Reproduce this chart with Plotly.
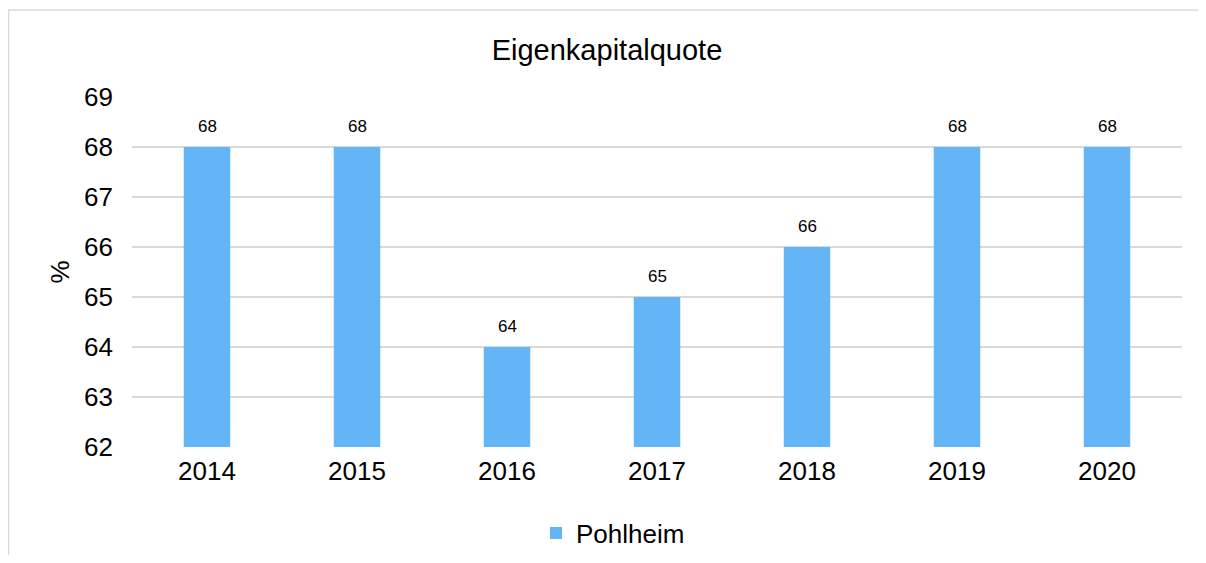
import plotly.graph_objects as go

years = ["2014", "2015", "2016", "2017", "2018", "2019", "2020"]
pohlheim = [68, 68, 64, 65, 66, 68, 68]
y_ticks = [62, 63, 64, 65, 66, 67, 68, 69]

font = "Liberation Sans, Arial, sans-serif"
# page body has an 8px margin, so the figure is 16px smaller than the window
W, H = 1190, 547
ml, mr, mt, mb = 124, 16, 89, 108
pw, ph = W - ml - mr, H - mt - mb

def px_x(x):
    return (x - ml) / pw

def px_y(y):
    return (H - mb - y) / ph

fig = go.Figure()
fig.add_trace(go.Bar(
    x=years, y=pohlheim, name="Pohlheim",
    marker=dict(color="#64B5F6", line=dict(width=0)),
))

# value labels above the bars (category index so "2014" isn't read as a number)
for i, v in enumerate(pohlheim):
    fig.add_annotation(x=i, y=v, xref="x", yref="y", text=str(v),
                       showarrow=False, yanchor="bottom", yshift=9,
                       font=dict(family=font, size=17, color="#000000"))

# outer chart frame (top and left edges visible)
fig.add_shape(type="rect", xref="paper", yref="paper",
              x0=px_x(0.5), x1=px_x(W + 20), y0=px_y(H + 20), y1=px_y(2),
              line=dict(color="#D9D9D9", width=1.5), layer="below")

fig.update_layout(
    width=W, height=H,
    margin=dict(l=ml, r=mr, t=mt, b=mb, autoexpand=False),
    paper_bgcolor="white", plot_bgcolor="white",
    bargap=0.69,
    title=dict(text="Eigenkapitalquote", x=599 / W, xref="container",
               xanchor="center", yref="container", y=1 - 42 / H,
               yanchor="middle",
               font=dict(family=font, size=29, color="#000000")),
    showlegend=True,
    legend=dict(orientation="h", xref="container", x=605 / W,
                xanchor="center", y=px_y(525), yanchor="middle",
                font=dict(family=font, size=26, color="#000000"),
                itemwidth=30),
    xaxis=dict(type="category", categoryorder="array", categoryarray=years,
               range=[-0.5, len(years) - 0.5], autorange=False,
               showgrid=False, showline=False, ticks="",
               automargin=False, ticklabelstandoff=6,
               tickfont=dict(family=font, size=26, color="#000000")),
    yaxis=dict(range=[62, 69], tickvals=y_ticks, showgrid=True,
               gridcolor="#D9D9D9", gridwidth=1.5, zeroline=False,
               ticks="", ticklabelstandoff=18, automargin=False,
               title=dict(text="%", standoff=6,
                          font=dict(family=font, size=26, color="#000000")),
               tickfont=dict(family=font, size=26, color="#000000")),
)

fig.write_html("out.html")
